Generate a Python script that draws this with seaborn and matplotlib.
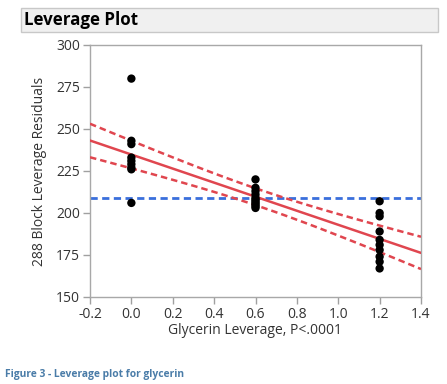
import numpy as np
import pandas as pd
import seaborn as sns
import matplotlib
matplotlib.use("Agg")
import matplotlib.pyplot as plt
from matplotlib.patches import Rectangle

# Data
x0_vals = [280, 243, 241, 233, 231, 229, 227, 226, 206]
x06_vals = [220, 215, 213, 211, 209, 208, 207, 206, 205, 204, 203]
x12_vals = [207, 200, 198, 189, 184, 181, 178, 174, 171, 167]
leverage_levels = [0.0, 0.6, 1.2]
xticks = [-0.2, 0.0, 0.2, 0.4, 0.6, 0.8, 1.0, 1.2, 1.4]
yticks = [150, 175, 200, 225, 250, 275, 300]
t95 = 2.048  # t quantile, 28 df

xs = ([leverage_levels[0]] * len(x0_vals) + [leverage_levels[1]] * len(x06_vals)
      + [leverage_levels[2]] * len(x12_vals))
ys = x0_vals + x06_vals + x12_vals
df = pd.DataFrame({"x": xs, "y": ys})

# Least squares fit and confidence curves
xa = np.array(xs, dtype=float)
ya = np.array(ys, dtype=float)
n = len(xa)
slope, intercept = np.polyfit(xa, ya, 1)
resid = ya - (intercept + slope * xa)
s = np.sqrt(np.sum(resid ** 2) / (n - 2))
sxx = np.sum((xa - xa.mean()) ** 2)
grid = np.linspace(xticks[0], xticks[-1], 100)
fit = intercept + slope * grid
se = s * np.sqrt(1 / n + (grid - xa.mean()) ** 2 / sxx)
fit_df = pd.DataFrame({"x": grid, "fit": fit, "lo": fit - t95 * se, "hi": fit + t95 * se})
mean_df = pd.DataFrame({"x": [xticks[0], xticks[-1]], "m": [ya.mean(), ya.mean()]})

sns.set_style("white")
plt.rcParams["font.family"] = ["Open Sans", "DejaVu Sans"]

fig = plt.figure(figsize=(4.47, 3.84), dpi=100)
ax = fig.add_axes([90 / 447, 87 / 384, 331 / 447, 252 / 384])

red = "#e0464f"
dash = (0, (2.6, 1.6))
sns.lineplot(data=mean_df, x="x", y="m", ax=ax, color="#3a6fdc", lw=2.0,
             linestyle=dash, zorder=2)
sns.lineplot(data=fit_df, x="x", y="fit", ax=ax, color=red, lw=1.8, zorder=3)
sns.lineplot(data=fit_df, x="x", y="lo", ax=ax, color=red, lw=1.8,
             linestyle=dash, zorder=3)
sns.lineplot(data=fit_df, x="x", y="hi", ax=ax, color=red, lw=1.8,
             linestyle=dash, zorder=3)
sns.scatterplot(data=df, x="x", y="y", ax=ax, color="black", s=36,
                edgecolor="none", zorder=4)

ax.set_xlim(xticks[0], xticks[-1])
ax.set_ylim(yticks[0], yticks[-1])
ax.set_xticks(xticks)
ax.set_xticklabels([f"{v:.1f}" for v in xticks])
ax.set_yticks(yticks)
ax.set_xlabel("Glycerin Leverage, P<.0001", fontsize=10, color="#333333", labelpad=1)
ax.set_ylabel("288 Block Leverage Residuals", fontsize=10, color="#333333", labelpad=7)
ax.tick_params(axis="both", which="both", direction="out", length=5, width=1,
               color="#a0a0a0", labelsize=10, labelcolor="#333333", pad=2,
               bottom=True, left=True)
for sp in ax.spines.values():
    sp.set_color("#a8a8a8")
    sp.set_linewidth(1.0)

# Title bar
fig.patches.append(Rectangle((21 / 447, 1 - 32 / 384), 417 / 447, 24 / 384,
                             transform=fig.transFigure, facecolor="#f0f0f0",
                             edgecolor="#c8c8c8", lw=1.0, zorder=0))
fig.text(24 / 447, 1 - 20 / 384, "Leverage Plot", fontsize=12.2, fontweight="bold",
         color="black", va="center", ha="left")

# Caption
fig.text(5 / 447, 1 - 374 / 384, "Figure 3 - Leverage plot for glycerin", fontsize=7.4,
         fontweight="bold", color="#4a7ca8", va="center", ha="left")

fig.savefig("out.png", dpi=100)
